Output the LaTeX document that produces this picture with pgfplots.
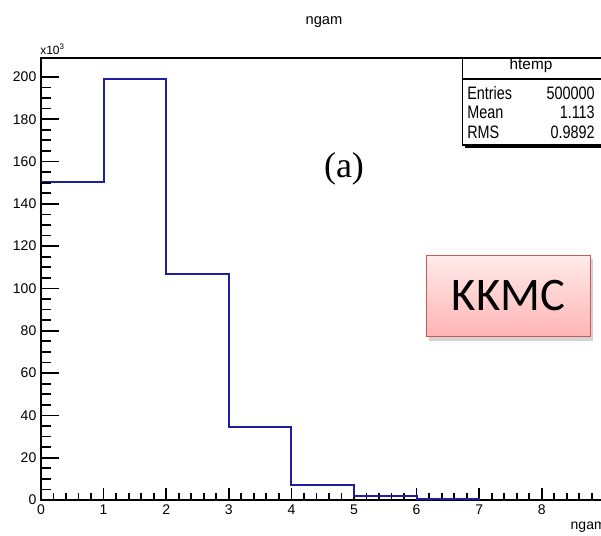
\documentclass[border=0pt]{standalone}
\usepackage{fontspec}
\setmainfont{Liberation Sans}
\newfontfamily\timesfont{Liberation Serif}
\newfontfamily\calfont{Carlito}
\newfontfamily\statfont[FakeStretch=0.8]{Liberation Sans}
\usepackage{pgfplots}
\pgfplotsset{compat=1.18}
\usetikzlibrary{shadows}

\definecolor{histblue}{RGB}{30,30,160}
\definecolor{kkedge}{RGB}{200,90,90}
\definecolor{kktop}{RGB}{255,235,235}
\definecolor{kkbot}{RGB}{255,180,180}

\pgfplotsset{rootaxis/.style={
  scale only axis, width=469.5pt, height=331.3pt,
  at={(30.75pt,27pt)}, anchor=south west,
  xmin=0, xmax=10, ymin=0, ymax=208.8,
  tick align=inside, tick pos=left,
  tick style={black, line width=1.3pt},
  tick label style={font=\fontsize{10.5}{11}\selectfont},
  /pgf/number format/assume math mode=true,
  scaled ticks=false,
}}

\begin{document}
\begin{tikzpicture}
\useasboundingbox (0,0) rectangle (450.75pt,402pt);
\clip (0,0) rectangle (450.75pt,402pt);
% histogram and x ticks
\begin{axis}[rootaxis,
  axis line style={black, line width=1.6pt},
  xtick={0,...,10}, minor x tick num=4, ytick=\empty,
  major tick length=9pt, minor tick length=5.25pt]
\addplot[const plot, histblue, line width=1.5pt] coordinates {
  (0,150.5) (1,199.0) (2,107.0) (3,34.5) (4,7.0) (5,1.8) (6,0.5) (7,0)};
\end{axis}
% y ticks (longer, as ROOT draws them)
\begin{axis}[rootaxis, axis line style={draw=none},
  xtick=\empty, ytick={0,20,...,200}, minor y tick num=3,
  major tick length=13.5pt, minor tick length=7.5pt]
\end{axis}

\begin{scope}[x=0.75pt,y=0.75pt]
\node[font=\fontsize{11}{12}\selectfont] at (324,514) {ngam};
\node[anchor=base west, inner sep=0, font=\fontsize{9}{10}\selectfont] at (40,481) {x10\textsuperscript{3}};
\node[anchor=base east, inner sep=0, font=\fontsize{10.5}{12}\selectfont] at (606,6) {ngam};

% stats box
\fill[black] (465,388) rectangle (620,392);
\draw[line width=1.4pt, fill=white] (462.5,478) rectangle (620,391);
\draw[line width=1.4pt] (462.5,456.7) -- (620,456.7);
\node[anchor=base, inner sep=0, font=\fontsize{11.5}{12}\selectfont] at (531,466) {htemp};
\begin{scope}[every node/.style={inner sep=0, font=\statfont\fontsize{13.5}{14}\selectfont}]
\node[anchor=base west] at (467,436) {Entries};
\node[anchor=base east] at (595,436) {500000};
\node[anchor=base west] at (467,417) {Mean};
\node[anchor=base east] at (595,417) {1.113};
\node[anchor=base west] at (467,397) {RMS};
\node[anchor=base east] at (595,397) {0.9892};
\end{scope}

\node[font=\timesfont\fontsize{27}{30}\selectfont, inner sep=0] at (344,367) {(a)};

\node[draw=kkedge, line width=1.2pt, top color=kktop, bottom color=kkbot,
  minimum width=123pt, minimum height=61pt, inner sep=0,
  drop shadow={shadow xshift=2pt, shadow yshift=-3pt, opacity=0.35},
  font=\calfont\fontsize{35}{40}\selectfont] at (508.5,240) {KKMC};
\end{scope}
\end{tikzpicture}
\end{document}
